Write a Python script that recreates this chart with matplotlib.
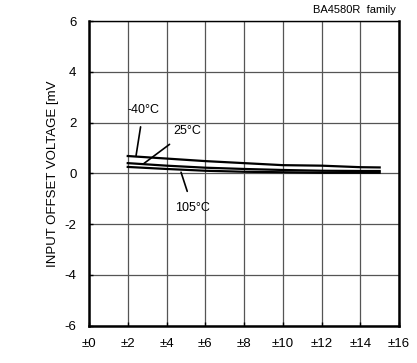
import matplotlib
matplotlib.use("Agg")
import matplotlib.pyplot as plt

plt.rcParams['font.family'] = ['Liberation Sans', 'DejaVu Sans']
plt.rcParams['axes.unicode_minus'] = False

# supply voltage [±V]
vcc = [2, 4, 6, 8, 10, 12, 14, 15]
# input offset voltage [mV] per temperature
vio_m40 = [0.68, 0.58, 0.48, 0.40, 0.32, 0.30, 0.24, 0.23]
vio_25 = [0.40, 0.30, 0.22, 0.17, 0.13, 0.10, 0.09, 0.09]
vio_105 = [0.25, 0.17, 0.10, 0.06, 0.04, 0.02, 0.02, 0.02]

xticks = [0, 2, 4, 6, 8, 10, 12, 14, 16]
xlabels = ["±0", "±2", "±4", "±6", "±8", "±10", "±12", "±14", "±16"]
yticks = [-6, -4, -2, 0, 2, 4, 6]

fig = plt.figure(figsize=(4.17, 3.63), dpi=100)
ax = fig.add_axes([0.2134, 0.1033, 0.7436, 0.8387])

for v in (vio_m40, vio_25, vio_105):
    ax.plot(vcc, v, color='black', lw=1.6)

ax.set_xlim(0, 16)
ax.set_ylim(-6, 6)
ax.set_xticks(xticks)
ax.set_xticklabels(xlabels)
ax.set_yticks(yticks)
ax.grid(True, color='#555555', lw=0.9)
ax.tick_params(direction='in', length=3, width=1, labelsize=9.5, pad=9)
for s in ax.spines.values():
    s.set_linewidth(1.8)
ax.spines['top'].set_linewidth(1.0)

ax.set_ylabel("INPUT OFFSET VOLTAGE [mV", fontsize=9.5, labelpad=4)

# annotations
ax.annotate("-40°C", xy=(2.43, 0.7), xytext=(2.8, 2.5), fontsize=9,
            ha='center', va='center',
            arrowprops=dict(arrowstyle='-', lw=1.2, color='black', shrinkA=6, shrinkB=0))
ax.annotate("25°C", xy=(2.84, 0.39), xytext=(5.05, 1.65), fontsize=9,
            ha='center', va='center',
            arrowprops=dict(arrowstyle='-', lw=1.2, color='black', shrinkA=5, shrinkB=0))
ax.annotate("105°C", xy=(4.75, 0.04), xytext=(5.35, -1.37), fontsize=9,
            ha='center', va='center',
            arrowprops=dict(arrowstyle='-', lw=1.2, color='black', shrinkA=6, shrinkB=0))

fig.text(0.95, 0.972, "BA4580R  family", fontsize=8, ha='right', va='center')

fig.savefig("out.png", dpi=100)
